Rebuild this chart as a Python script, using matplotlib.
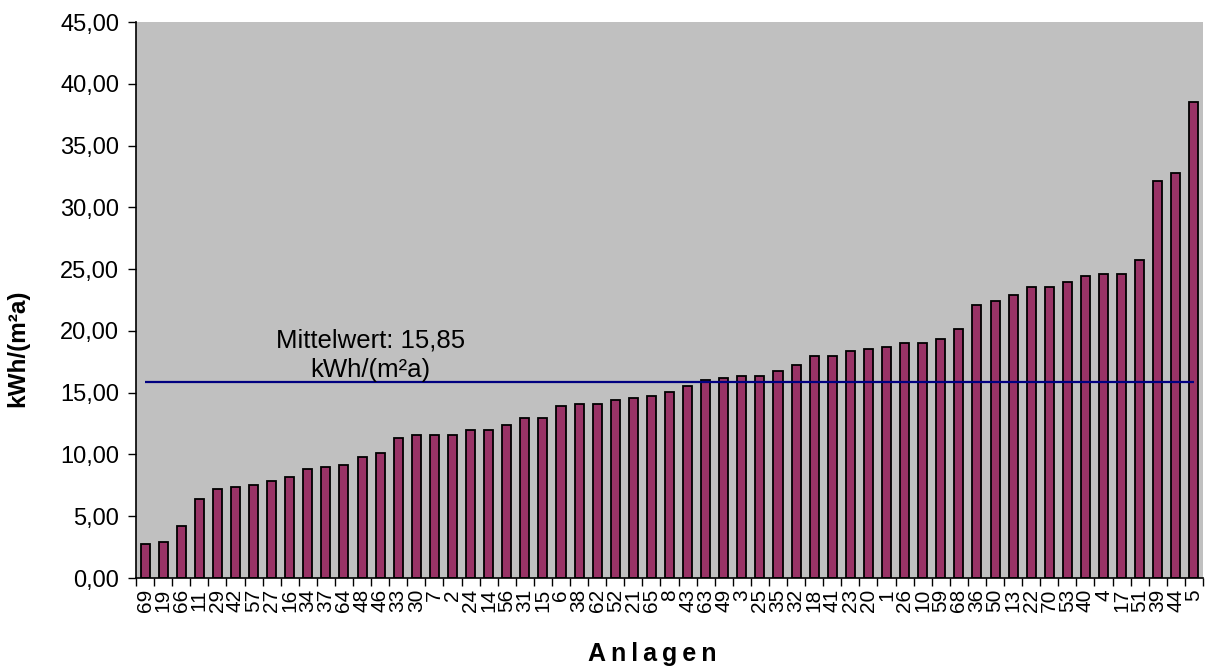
import matplotlib
matplotlib.use("Agg")
import matplotlib.pyplot as plt
from matplotlib.ticker import FuncFormatter, FixedLocator

plt.rcParams['font.family'] = ['Liberation Sans', 'DejaVu Sans']

anlagen = ["69", "19", "66", "11", "29", "42", "57", "27", "16", "34",
           "37", "64", "48", "46", "33", "30", "7", "2", "24", "14",
           "56", "31", "15", "6", "38", "62", "52", "21", "65", "8",
           "43", "63", "49", "3", "25", "35", "32", "18", "41", "23",
           "20", "1", "26", "10", "59", "68", "36", "50", "13", "22",
           "70", "53", "40", "4", "17", "51", "39", "44", "5"]
werte = [2.75, 2.91, 4.20, 6.37, 7.17, 7.36, 7.52, 7.82, 8.17, 8.82,
         8.98, 9.14, 9.79, 10.14, 11.30, 11.60, 11.60, 11.60, 11.95, 11.95,
         12.40, 12.92, 12.92, 13.92, 14.08, 14.05, 14.40, 14.56, 14.75, 15.07,
         15.56, 16.05, 16.20, 16.37, 16.37, 16.72, 17.20, 18.00, 18.00, 18.34,
         18.50, 18.66, 18.99, 18.99, 19.34, 20.15, 22.09, 22.44, 22.92, 23.57,
         23.57, 23.92, 24.41, 24.60, 24.60, 25.73, 32.15, 32.77, 38.50]
mittelwert = 15.85
y_ticks = [0, 5, 10, 15, 20, 25, 30, 35, 40, 45]

W, H = 1205, 670
fig = plt.figure(figsize=(W / 100, H / 100), dpi=100)
fig.patch.set_facecolor('white')
ax = fig.add_axes([136 / W, 1 - 578 / H, (1203 - 136) / W, (578 - 22) / H])
ax.set_facecolor('#C0C0C0')

x = list(range(len(werte)))
ax.bar(x, werte, width=0.5, color='#993366', edgecolor='black', linewidth=1.3, zorder=2)
ax.hlines(mittelwert, 0, len(werte) - 1, colors='#000080', linewidth=1.6, zorder=3)

ax.text(12.47, 18.0, "Mittelwert: 15,85\nkWh/(m²a)", ha='center', va='center',
        fontsize=18.5, linespacing=1.3, zorder=4)

ax.set_xlim(-0.5, len(werte) - 0.5)
ax.set_ylim(0, 45)
ax.set_yticks(y_ticks)
ax.yaxis.set_major_formatter(FuncFormatter(lambda v, p: f"{v:.2f}".replace('.', ',')))
ax.tick_params(axis='y', direction='out', length=6, width=1, labelsize=17, pad=6)

ax.set_xticks(x)
ax.set_xticklabels(anlagen, rotation=90, fontsize=15, va='top')
ax.tick_params(axis='x', which='major', length=0, pad=8)
ax.xaxis.set_minor_locator(FixedLocator([i - 0.5 for i in range(len(werte) + 1)]))
ax.tick_params(axis='x', which='minor', direction='out', length=6, width=1)

for s in ['top', 'right']:
    ax.spines[s].set_visible(False)
for s in ['left', 'bottom']:
    ax.spines[s].set_color('black')
    ax.spines[s].set_linewidth(1.2)

fig.text(18 / W, 1 - 348 / H, "kWh/(m²a)", rotation=90, ha='center', va='center',
         fontsize=17.5, fontweight='bold')
fig.text(652 / W, 1 - 654 / H, "A n l a g e n".replace(" ", "\u2009"), ha='center', va='center',
         fontsize=18, fontweight='bold')

fig.savefig("out.png", dpi=100)
